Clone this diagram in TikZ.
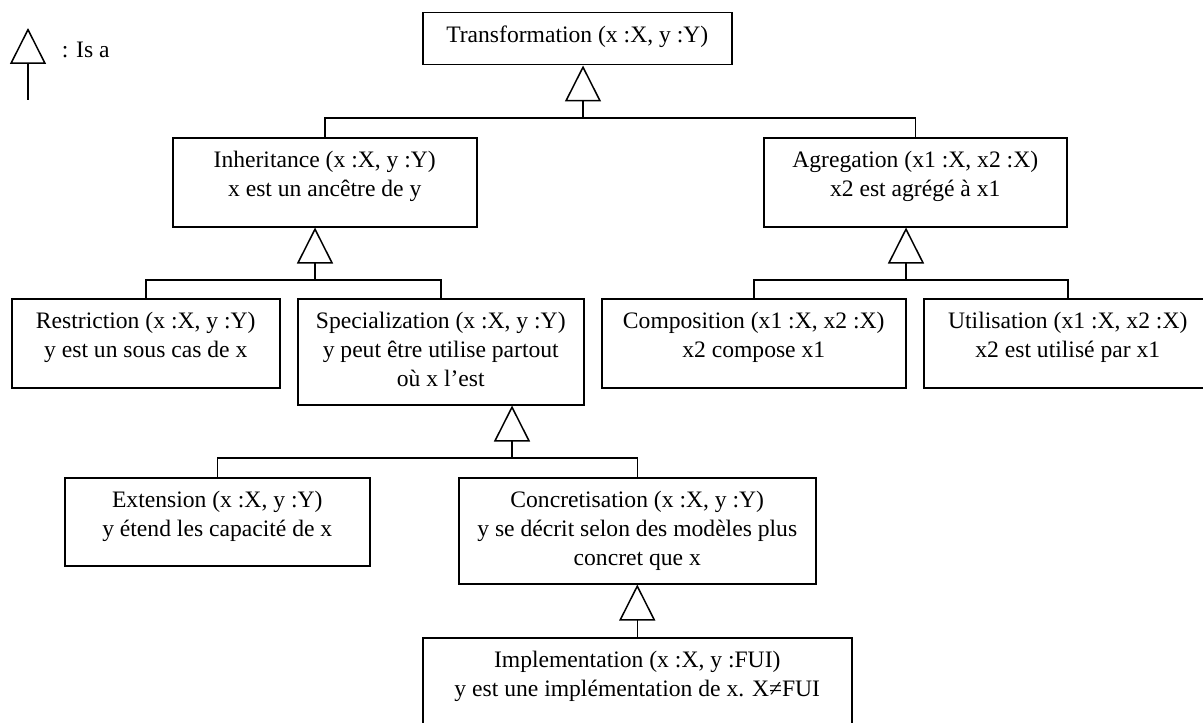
\documentclass[tikz,border=0pt]{standalone}
\usepackage{fontspec}
\setmainfont{Liberation Serif}
\usetikzlibrary{arrows.meta,positioning}

\begin{document}
\begin{tikzpicture}[x=0.5pt, y=-0.5pt, line width=0.75pt,
  box/.style={draw, inner sep=0pt, anchor=north west},
  txt/.style={inner sep=0pt, align=center, font=\fontsize{11.8pt}{14.5pt}\selectfont},
  isa/.style={-{Triangle[open, length=18pt, width=18pt]}}]
  \useasboundingbox (0,0) rectangle (1203,722);

  % Legend
  \coordinate (leg) at (28,100);
  \coordinate (leg-tip) at (28,28);
  \draw[isa] (leg) -- (leg-tip);
  \node[txt, anchor=base west] (leg-txt) at (61,58) {: Is a};

  % Boxes (top left corner, size)
  \node[box, minimum width=154.5pt, minimum height=26pt] (trans) at (422,12) {};
  \node[box, minimum width=152pt, minimum height=44.5pt] (inh) at (172,137) {};
  \node[box, minimum width=151.5pt, minimum height=44.5pt] (agr) at (763,137) {};
  \node[box, minimum width=134pt, minimum height=44.5pt] (restr) at (11,298) {};
  \node[box, minimum width=143pt, minimum height=53pt] (spec) at (297,298) {};
  \node[box, minimum width=152pt, minimum height=44.5pt] (comp) at (601,298) {};
  \node[box, minimum width=144pt, minimum height=44.5pt] (util) at (923,298) {};
  \node[box, minimum width=152.5pt, minimum height=44pt] (ext) at (64,477) {};
  \node[box, minimum width=178.5pt, minimum height=53pt] (conc) at (458,477) {};
  \node[box, minimum width=214.5pt, minimum height=44.5pt] (impl) at (422,637) {};

  % Box texts
  \node[txt, below=6.6pt of trans.north] (trans-txt) {Transformation (x :X, y :Y)};
  \node[txt, below=6.6pt of inh.north] (inh-txt) {Inheritance (x :X, y :Y)\\x est un ancêtre de y};
  \node[txt, below=6.6pt of agr.north] (agr-txt) {Agregation (x1 :X, x2 :X)\\x2 est agrégé à x1};
  \node[txt, below=6.6pt of restr.north] (restr-txt) {Restriction (x :X, y :Y)\\y est un sous cas de x};
  \node[txt, below=6.6pt of spec.north] (spec-txt) {Specialization (x :X, y :Y)\\y peut être utilise partout\\où x l’est};
  \node[txt, below=6.6pt of comp.north] (comp-txt) {Composition (x1 :X, x2 :X)\\x2 compose x1};
  \node[txt, below=6.6pt of util.north] (util-txt) {Utilisation (x1 :X, x2 :X)\\x2 est utilisé par x1};
  \node[txt, below=6.6pt of ext.north] (ext-txt) {Extension (x :X, y :Y)\\y étend les capacité de x};
  \node[txt, below=6.6pt of conc.north] (conc-txt) {Concretisation (x :X, y :Y)\\y se décrit selon des modèles plus\\concret que x};
  \node[txt, below=6.6pt of impl.north] (impl-txt) {Implementation (x :X, y :FUI)\\y est une implémentation de x. X≠FUI};

  % Is-a links
  \coordinate (trans-j) at (583,118);
  \draw[isa] (trans-j) -- (trans-j |- trans.south);
  \draw (inh.north) |- (trans-j) -| (agr.north);

  \coordinate (inh-j) at (315,280);
  \draw[isa] (inh-j) -- (inh-j |- inh.south);
  \draw (restr.north) |- (inh-j) -| (spec.north);

  \coordinate (agr-j) at (906,280);
  \draw[isa] (agr-j) -- (agr-j |- agr.south);
  \draw (comp.north) |- (agr-j) -| (util.north);

  \coordinate (spec-j) at (512,458);
  \draw[isa] (spec-j) -- (spec-j |- spec.south);
  \draw (ext.north) |- (spec-j) -| (conc.north);

  \draw[isa] (impl.north) -- (conc.south);
\end{tikzpicture}
\end{document}
